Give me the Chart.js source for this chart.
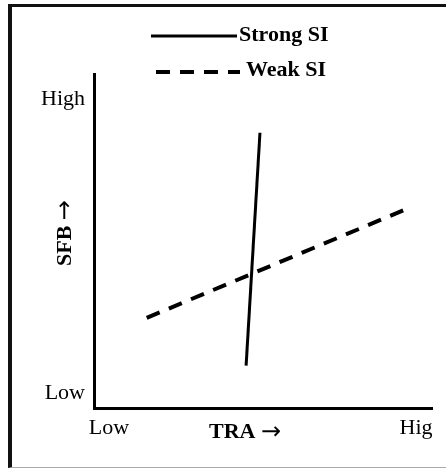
<!DOCTYPE html>
<html>
<head>
<meta charset="utf-8">
<script src="https://cdn.jsdelivr.net/npm/chart.js@4/dist/chart.umd.min.js"></script>
<style>
  html, body { margin: 0; padding: 0; background: #fff; overflow: hidden; }
  #wrap { position: relative; width: 446px; height: 469px; }
  #frame {
    position: absolute; left: 8px; top: 4px; width: 460px; height: 464px;
    box-sizing: border-box;
    border-left: 4px solid #111; border-top: 3px solid #111; border-bottom: 1px solid #aaa;
    pointer-events: none;
  }
</style>
</head>
<body>
<div id="wrap">
  <canvas id="chart" width="446" height="469"></canvas>
  <div id="frame"></div>
</div>
<script>
// values (axes run 0..10, Low..High)
const seriesNames = ['Strong SI', 'Weak SI'];
const strongX = [4.50, 4.91];
const strongY = [1.27, 8.24];
const weakX = [1.56, 9.30];
const weakY = [2.70, 5.98];
const xTickValues = [0.44, 9.53];
const xTickLabels = ['Low', 'Hig'];
const yTickValues = [0.45, 9.25];
const yTickLabels = ['Low', 'High'];
const xTitle = 'TRA';
const yTitle = 'SFB';
const arrow = '\u2192';

const serif = '"Liberation Serif", "Times New Roman", serif';
const arrowFont = '24px "DejaVu Sans", sans-serif';

function points(xs, ys) {
  return xs.map((x, i) => ({ x: x, y: ys[i] }));
}

// title text in bold serif followed by an arrow, centred on (0,0)
function drawTitle(ctx, text) {
  ctx.font = 'bold 22px ' + serif;
  const w1 = ctx.measureText(text + ' ').width;
  ctx.font = arrowFont;
  const w2 = ctx.measureText(arrow).width;
  const start = -(w1 + w2) / 2;
  ctx.textAlign = 'left';
  ctx.textBaseline = 'middle';
  ctx.font = 'bold 22px ' + serif;
  ctx.fillText(text, start, 0);
  ctx.font = arrowFont;
  ctx.fillText(arrow, start + w1, 1);
}

// axis titles and the two-row legend
const extrasPlugin = {
  id: 'extras',
  afterDraw(chart) {
    const ctx = chart.ctx;
    ctx.save();
    ctx.fillStyle = '#000';
    ctx.translate(245, 432);
    drawTitle(ctx, xTitle);
    ctx.restore();

    ctx.save();
    ctx.fillStyle = '#000';
    ctx.translate(65, 233);
    ctx.rotate(-Math.PI / 2);
    drawTitle(ctx, yTitle);
    ctx.restore();

    const rows = [
      { x1: 151, x2: 237, ly: 36, tx: 239, ty: 35 },
      { x1: 156, x2: 240, ly: 72, tx: 246, ty: 70 }
    ];
    chart.data.datasets.forEach((ds, i) => {
      const r = rows[i];
      ctx.save();
      ctx.strokeStyle = ds.borderColor;
      ctx.lineWidth = ds.borderWidth;
      ctx.setLineDash(ds.borderDash || []);
      ctx.beginPath();
      ctx.moveTo(r.x1, r.ly);
      ctx.lineTo(r.x2, r.ly);
      ctx.stroke();
      ctx.fillStyle = '#000';
      ctx.font = 'bold 22px ' + serif;
      ctx.textAlign = 'left';
      ctx.textBaseline = 'middle';
      ctx.fillText(ds.label, r.tx, r.ty);
      ctx.restore();
    });
  }
};

new Chart(document.getElementById('chart'), {
  type: 'line',
  data: {
    datasets: [
      {
        label: seriesNames[0],
        data: points(strongX, strongY),
        borderColor: '#000',
        borderWidth: 3,
        pointRadius: 0
      },
      {
        label: seriesNames[1],
        data: points(weakX, weakY),
        borderColor: '#000',
        borderWidth: 4,
        borderDash: [14, 10],
        borderCapStyle: 'butt',
        pointRadius: 0
      }
    ]
  },
  options: {
    responsive: false,
    animation: false,
    layout: { padding: { top: 74, right: 14, bottom: 0, left: 0 } },
    plugins: {
      legend: { display: false },
      tooltip: { enabled: false }
    },
    scales: {
      x: {
        type: 'linear',
        min: 0,
        max: 10,
        grid: { display: false, drawTicks: false },
        border: { color: '#000', width: 3 },
        afterFit: s => { s.height = 61; },
        afterBuildTicks: s => { s.ticks = xTickValues.map(v => ({ value: v })); },
        ticks: {
          color: '#000',
          padding: 7,
          maxRotation: 0,
          autoSkip: false,
          font: { family: serif, size: 22 },
          callback: (v, i) => xTickLabels[i]
        }
      },
      y: {
        type: 'linear',
        min: 0,
        max: 10,
        grid: { display: false, drawTicks: false },
        border: { color: '#000', width: 3 },
        afterFit: s => { s.width = 94; },
        afterBuildTicks: s => { s.ticks = yTickValues.map(v => ({ value: v })); },
        ticks: {
          color: '#000',
          padding: 9,
          autoSkip: false,
          font: { family: serif, size: 22 },
          callback: (v, i) => yTickLabels[i]
        }
      }
    }
  },
  plugins: [extrasPlugin]
});
</script>
</body>
</html>
